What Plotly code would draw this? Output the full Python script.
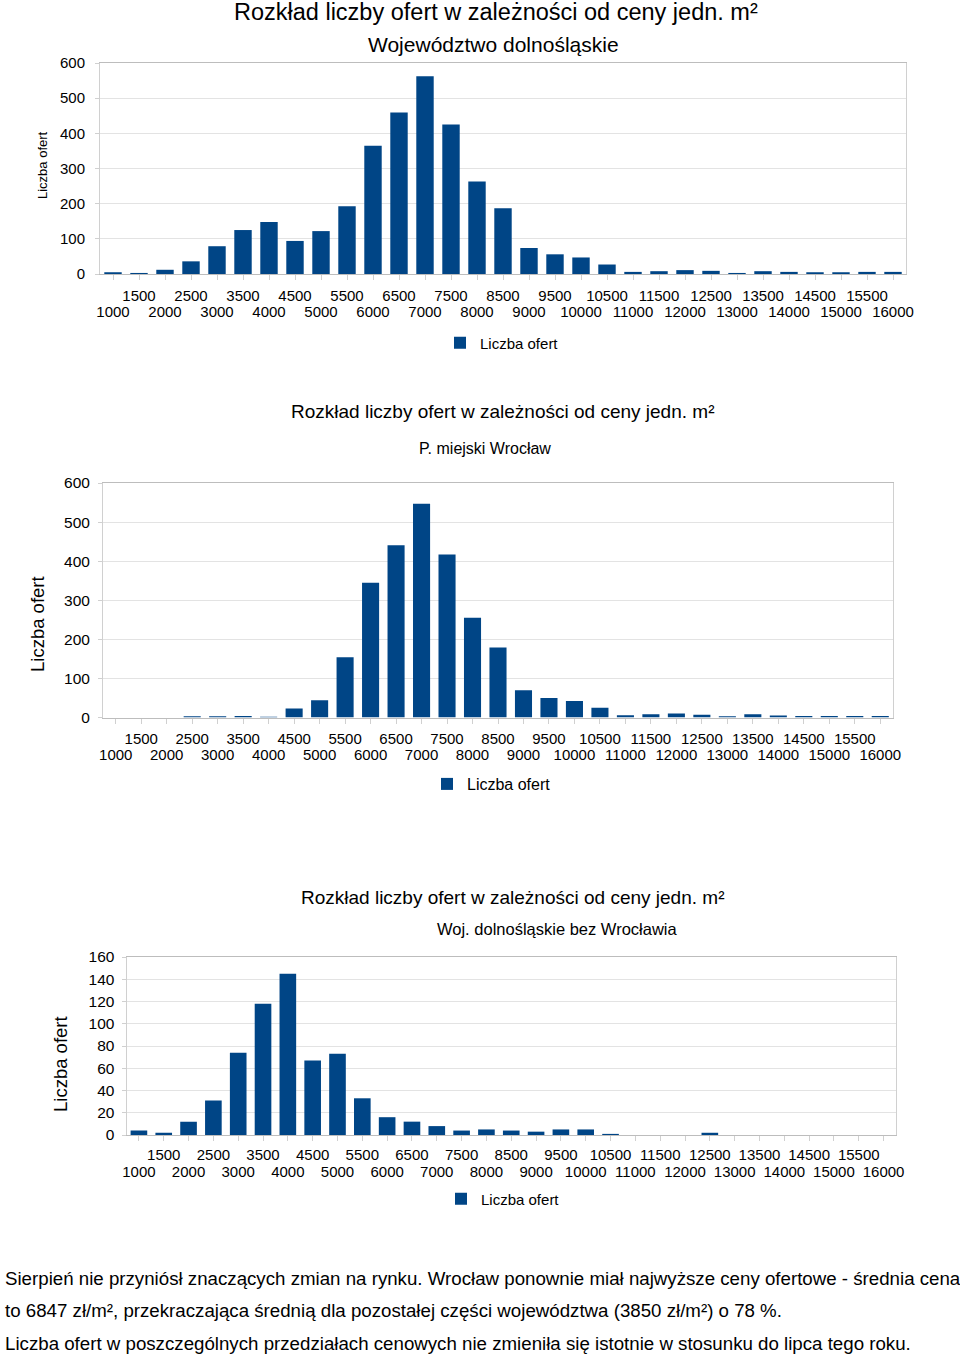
import plotly.graph_objects as go

categories = ["1000", "1500", "2000", "2500", "3000", "3500", "4000", "4500", "5000", "5500",
              "6000", "6500", "7000", "7500", "8000", "8500", "9000", "9500", "10000", "10500",
              "11000", "11500", "12000", "12500", "13000", "13500", "14000", "14500", "15000",
              "15500", "16000"]
woj_values = [5, 3, 12, 36, 79, 125, 148, 94, 122, 193, 365, 459, 562, 425, 263, 187, 74, 56, 47, 27,
              6, 8, 11, 9, 3, 8, 6, 5, 5, 6, 6]
wroclaw_values = [0, 0, 0, 3, 3, 4, 2, 23, 44, 154, 345, 441, 547, 417, 255, 179, 70, 50, 42, 25,
                  6, 8, 10, 7, 3, 8, 5, 4, 4, 4, 4]
bez_wroclawia_values = [4, 2, 12, 31, 74, 118, 145, 67, 73, 33, 16, 12, 8, 4, 5, 4, 3, 5, 5, 1,
                        0, 0, 0, 2, 0, 0, 0, 0, 0, 0, 0]
series_name = "Liczba ofert"
title_text = "Rozkład liczby ofert w zależności od ceny jedn. m²"
subtitles = ["Województwo dolnośląskie", "P. miejski Wrocław", "Woj. dolnośląskie bez Wrocławia"]
y_ticks_big = [0, 100, 200, 300, 400, 500, 600]
y_ticks_small = [0, 20, 40, 60, 80, 100, 120, 140, 160]
paragraph = [
    "Sierpień nie przyniósł znaczących zmian na rynku. Wrocław ponownie miał najwyższe ceny ofertowe - średnia cena",
    "to 6847 zł/m², przekraczająca średnią dla pozostałej części województwa (3850 zł/m²) o 78 %.",
    "Liczba ofert w poszczególnych przedziałach cenowych nie zmieniła się istotnie w stosunku do lipca tego roku.",
]

W, H = 960, 1356
FONT = "Liberation Sans"
BAR = "#004586"
GRID = "#e3e3e3"
LINE = "#d0d0d0"


def xp(px):
    return px / W


def yp(py):
    return 1 - py / H


odd_cats = categories[1::2]     # top row of labels
even_cats = categories[0::2]    # bottom row of labels
xrange_cat = [-0.5, len(categories) - 0.5]

fig = go.Figure()

panels = [
    dict(vals=woj_values, xd=(100, 906), yd=(63, 274), rng=[0, 600], ytv=y_ticks_big,
         xf=15, yf=15, xso=3, row2=24, yso=7, leg="legend", legx=440, legy=343, legf=15),
    dict(vals=wroclaw_values, xd=(103, 893), yd=(483, 717.5), rng=[0, 600], ytv=y_ticks_big,
         xf=15, yf=15.5, xso=2, row2=23, yso=5, leg="legend2", legx=427, legy=784, legf=16),
    dict(vals=bez_wroclawia_values, xd=(126.5, 896), yd=(957, 1135), rng=[0, 160], ytv=y_ticks_small,
         xf=15, yf=15.5, xso=1, row2=23, yso=4, leg="legend3", legx=441, legy=1199, legf=15),
]

layout_axes = {}
legends = {}
for i, p in enumerate(panels):
    n = "" if i == 0 else str(i + 1)
    m = str(i + 4)  # overlay axis carrying the second row of labels
    fig.add_trace(go.Bar(
        x=categories, y=p["vals"], name=series_name, marker_color=BAR,
        marker_line_width=0, xaxis="x" + n, yaxis="y" + n, legend=p["leg"],
        showlegend=True,
    ))
    # invisible helper trace so the overlay axis (second label row) is drawn
    fig.add_trace(go.Scatter(
        x=categories, y=p["vals"], mode="none", xaxis="x" + m, yaxis="y" + n,
        showlegend=False, hoverinfo="skip",
    ))
    layout_axes["xaxis" + n] = dict(
        domain=[xp(p["xd"][0]), xp(p["xd"][1])], anchor="y" + n, automargin=False,
        type="category", categoryorder="array", categoryarray=categories, range=xrange_cat,
        tickmode="array", tickvals=categories,
        ticktext=[c if c in odd_cats else "" for c in categories],
        tickangle=0, ticks="outside", ticklen=5, tickcolor=LINE, ticklabelstandoff=p["xso"],
        showline=True, linecolor="#bdbdbd", mirror=True, showgrid=False,
        tickfont=dict(family=FONT, size=p["xf"], color="#000"), fixedrange=True,
    )
    layout_axes["xaxis" + m] = dict(
        domain=[xp(p["xd"][0]), xp(p["xd"][1])], anchor="y" + n, automargin=False,
        overlaying="x" + n, side="bottom",
        type="category", categoryorder="array", categoryarray=categories, range=xrange_cat,
        tickmode="array", tickvals=even_cats, ticktext=even_cats,
        tickangle=0, ticks="outside", ticklen=p["row2"], tickcolor="rgba(0,0,0,0)",
        showline=False, showgrid=False, zeroline=False,
        tickfont=dict(family=FONT, size=p["xf"], color="#000"), fixedrange=True,
    )
    layout_axes["yaxis" + n] = dict(
        domain=[yp(p["yd"][1]), yp(p["yd"][0])], anchor="x" + n, automargin=False,
        range=p["rng"], tickmode="array", tickvals=p["ytv"],
        ticks="outside", ticklen=4, tickcolor=LINE, ticklabelstandoff=p["yso"],
        showline=True, linecolor=LINE, mirror=True,
        showgrid=True, gridcolor=GRID, zeroline=False,
        tickfont=dict(family=FONT, size=p["yf"], color="#000"), fixedrange=True,
    )
    legends[p["leg"]] = dict(
        x=xp(p["legx"]), y=yp(p["legy"]), xanchor="left", yanchor="middle",
        orientation="h", bgcolor="rgba(0,0,0,0)", itemwidth=30,
        font=dict(family=FONT, size=p["legf"], color="#000"),
    )

annotations = [
    dict(text=title_text, x=xp(496), y=yp(12), font=dict(size=23.5)),
    dict(text=subtitles[0], x=xp(494), y=yp(44), font=dict(size=21)),
    dict(text=title_text, x=xp(502), y=yp(411), font=dict(size=19)),
    dict(text=subtitles[1], x=xp(485), y=yp(448), font=dict(size=16)),
    dict(text=title_text, x=xp(512), y=yp(898), font=dict(size=19)),
    dict(text=subtitles[2], x=xp(557), y=yp(929), font=dict(size=16.5)),
    dict(text=series_name, x=xp(42), y=yp(165), font=dict(size=13), textangle=-90),
    dict(text=series_name, x=xp(37), y=yp(624), font=dict(size=18.5), textangle=-90),
    dict(text=series_name, x=xp(60), y=yp(1064), font=dict(size=18.5), textangle=-90),
]
for a in annotations:
    a.update(xref="paper", yref="paper", showarrow=False, xanchor="center", yanchor="middle")
    a["font"].update(family=FONT, color="#000")

for k, (line, yy) in enumerate(zip(paragraph, [1278, 1310, 1343])):
    annotations.append(dict(text=line, x=xp(3), y=yp(yy), xref="paper", yref="paper",
                            showarrow=False, xanchor="left", yanchor="middle",
                            font=dict(family=FONT, size=18.7, color="#000")))

fig.update_layout(
    width=W, height=H, autosize=False,
    margin=dict(l=0, r=0, t=0, b=0, autoexpand=False),
    paper_bgcolor="white", plot_bgcolor="white",
    bargap=0.33,
    annotations=annotations,
    **layout_axes, **legends,
)

fig.write_html("out.html", config={"displayModeBar": False, "staticPlot": True},
               post_script="document.body.style.margin='0';document.body.style.padding='0';"
                           "document.body.style.overflow='hidden';")
